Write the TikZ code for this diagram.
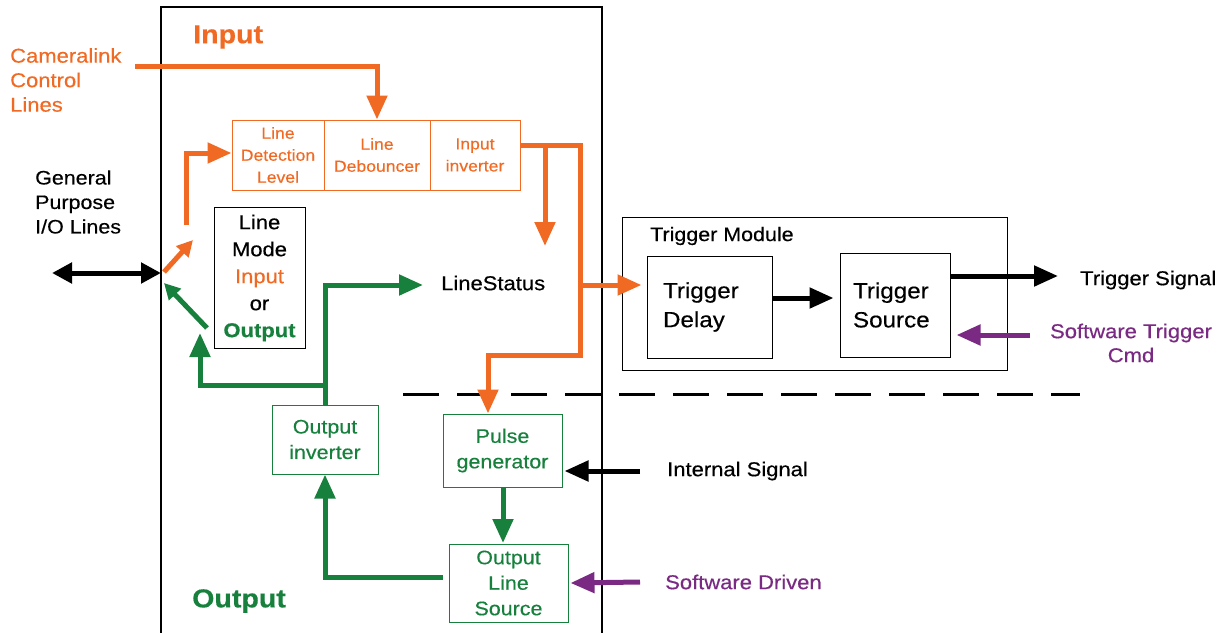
\documentclass[tikz,border=0pt]{standalone}
\usepackage{fontspec}
\setmainfont{Liberation Sans}[FakeStretch=1.1, FakeBold=0.4]
\usetikzlibrary{arrows.meta}
\definecolor{orng}{HTML}{F06A24}
\definecolor{grn}{HTML}{17803D}
\definecolor{purp}{HTML}{7A2A82}
\tikzset{
  bigarr/.style={line width=5pt, line join=miter, -{Triangle[length=24pt,width=20pt]}},
  smallarr/.style={line width=5pt, -{Triangle[length=16pt,width=16pt]}},
  obox/.style={draw=orng, line width=1pt, text=orng, inner sep=0pt, align=center, font=\fontsize{16pt}{22pt}\selectfont},
  gbox/.style={draw=grn, line width=1pt, text=grn, inner sep=0pt, align=center, font=\fontsize{19.5pt}{25.5pt}\selectfont},
  kbox/.style={draw=black, line width=1pt, inner sep=0pt},
  lbl/.style={anchor=west, inner sep=0pt, align=left, font=\fontsize{20pt}{24pt}\selectfont},
}
\begin{document}
\begin{tikzpicture}[x=1pt,y=-1pt]
\useasboundingbox (0,0) rectangle (1228,632);
% main frame
\coordinate (mf1) at (161,640);
\coordinate (mf2) at (161,7);
\coordinate (mf3) at (602,7);
\coordinate (mf4) at (602,640);
\draw[line width=1.2pt] (mf1) -- (mf2) -- (mf3) -- (mf4);

% titles
\node[text=orng, font=\bfseries\fontsize{26pt}{30pt}\selectfont, anchor=west, inner sep=0pt] (tin) at (193,37) {Input};
\node[text=grn, font=\bfseries\fontsize{26pt}{30pt}\selectfont, anchor=west, inner sep=0pt] (tout) at (192,601) {Output};

% labels
\node[lbl, text=orng, font=\fontsize{20pt}{24.5pt}\selectfont] (cam) at (10,80) {Cameralink\\Control\\Lines};
\node[lbl, font=\fontsize{19.5pt}{24.5pt}\selectfont] (gp) at (35,202) {General\\Purpose\\I/O Lines};

% input row
\node[obox, minimum width=92pt, minimum height=70pt] (ldl) at (278,155) {Line\\Detection\\Level};
\node[obox, minimum width=106pt, minimum height=70pt] (ldb) at (377,155) {Line\\Debouncer};
\node[obox, minimum width=90pt, minimum height=70pt] (inv) at (475,155) {Input\\inverter};

% line mode
\node[kbox, minimum width=91pt, minimum height=141pt, align=center, font=\fontsize{20pt}{27pt}\selectfont] (lm) at (259.5,278)
  {Line\\Mode\\\textcolor{orng}{Input}\\or\\\textcolor{grn}{\bfseries Output}};

% line status
\node[lbl] (ls) at (441,283) {LineStatus};

% trigger module
\node[kbox, minimum width=385pt, minimum height=153pt] (tm) at (814.5,293.5) {};
\node[lbl, font=\fontsize{19.5pt}{20pt}\selectfont] (tml) at (650,236) {Trigger Module};
\node[kbox, minimum width=125pt, minimum height=102pt, align=left, text width=93pt, font=\fontsize{22pt}{29pt}\selectfont] (td) at (709.5,307) {Trigger\\Delay};
\node[kbox, minimum width=110pt, minimum height=104pt, align=left, text width=84pt, font=\fontsize{22pt}{29pt}\selectfont] (ts) at (895,305) {Trigger\\Source};
\node[lbl] (tsl) at (1080,280) {Trigger Signal};
\node[text=purp, align=center, inner sep=0pt, font=\fontsize{20pt}{24pt}\selectfont] (swt) at (1131,343) {Software Trigger\\Cmd};

% output blocks
\node[gbox, minimum width=106pt, minimum height=69pt] (oinv) at (325,439.5) {Output\\inverter};
\node[gbox, minimum width=119pt, minimum height=73pt] (pg) at (502.5,450.5) {Pulse\\generator};
\node[gbox, minimum width=119pt, minimum height=78pt] (ols) at (508.5,583) {Output\\Line\\Source};
\node[lbl] (isl) at (667,471) {Internal Signal};
\node[lbl, text=purp] (swd) at (665,582) {Software Driven};

% dashed separator
\coordinate (ds1) at (403,394);
\coordinate (ds2) at (1080,394);
\draw[line width=3pt, dash pattern=on 36pt off 18pt] (ds1) -- (ds2);

% ---- connectors ----
% GP double arrow
\coordinate (gpa) at (52,273);
\coordinate (gpb) at (161,273);
\draw[line width=5pt, {Triangle[length=20pt,width=20pt]}-{Triangle[length=20pt,width=20pt]}] (gpa) -- (gpb);

% cameralink
\coordinate (cam0) at (135,66);
\draw[bigarr, orng] (cam0) -| (ldb.north);

% orange from GP up to detection
\coordinate (go1) at (164,272);
\coordinate (go2) at (193,240);
\draw[smallarr, orng] (go1) -- (go2);
\coordinate (go3) at (186,225);
\draw[bigarr, orng] (go3) |- ([yshift=2pt]ldl.west);

% green diag to GP
\coordinate (gg1) at (207,328);
\coordinate (gg2) at (164,283);
\draw[smallarr, grn] (gg1) -- (gg2);

% orange from inverter
\coordinate (ob1) at (580,145);
\coordinate (ob2) at (580,355);
\coordinate (ob3) at (488,355);
\draw[bigarr, orng] ([yshift=10pt]inv.east) -- (ob1) -- (ob2) -- (ob3) -- (ob3 |- pg.north);
\coordinate (oc1) at (545,145);
\coordinate (oc2) at (545,246);
\draw[bigarr, orng] (oc1) -- (oc2);
\coordinate (od1) at (580,285);
\draw[bigarr, orng] (od1) -- ([xshift=-5pt,yshift=22pt]td.west);

% green to line status
\coordinate (gj) at (324,385);
\draw[bigarr, grn] (oinv.north) |- ([xshift=-18pt,yshift=-2pt]ls.west);
\coordinate (gk) at (200,333);
\draw[bigarr, grn] (gj) -| (gk);

% trigger chain
\draw[bigarr] ([yshift=9pt]td.east) -- ([xshift=-6pt,yshift=7pt]ts.west);
\coordinate (tsig) at (1058,276);
\draw[bigarr] ([yshift=29pt]ts.east) -- (tsig);
\coordinate (swt0) at (1030,335);
\draw[bigarr, purp] (swt0) -- ([xshift=6pt,yshift=-30pt]ts.east);

% output chain
\coordinate (is0) at (640,471);
\draw[bigarr] (is0) -- ([xshift=2pt,yshift=-20.5pt]pg.east);
\draw[bigarr, grn] (pg.south -| 503,0) -- (503,543);
\draw[bigarr, grn] ([xshift=-6pt,yshift=6pt]ols.west) -| (oinv.south);
\coordinate (sd0) at (640,582);
\draw[bigarr, purp] (sd0) -- ([xshift=2pt]ols.east);
\end{tikzpicture}
\end{document}
